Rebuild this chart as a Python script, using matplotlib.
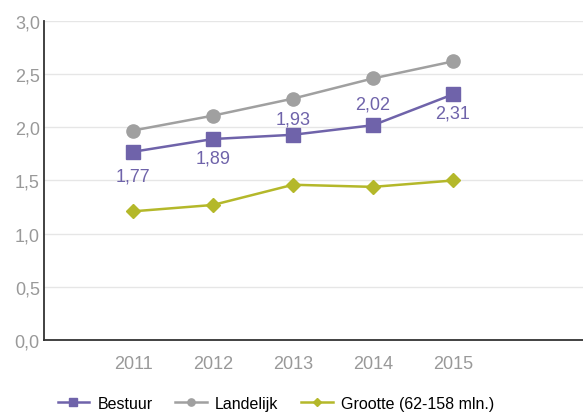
import matplotlib
matplotlib.use("Agg")
import matplotlib.pyplot as plt

years = [2011, 2012, 2013, 2014, 2015]
bestuur = [1.77, 1.89, 1.93, 2.02, 2.31]
landelijk = [1.97, 2.11, 2.27, 2.46, 2.62]
grootte = [1.21, 1.27, 1.46, 1.44, 1.50]
yticks = [0.0, 0.5, 1.0, 1.5, 2.0, 2.5, 3.0]

# label centre offsets in pixels (negative = below the point)
label_offsets_px = [-22, -17, 18, 23, -16.5]

plt.rcParams['font.family'] = ['Liberation Sans', 'DejaVu Sans']

purple = "#6f63aa"
gray = "#a0a0a0"
olive = "#b4b82a"

fig = plt.figure(figsize=(5.83, 4.14), dpi=100)
ax = fig.add_axes([0.0755, 0.1763, 0.9245, 0.7706])

ax.plot(years, bestuur, color=purple, lw=1.8, marker='s', ms=10, label="Bestuur", zorder=4)
ax.plot(years, landelijk, color=gray, lw=1.8, marker='o', ms=9.5, label="Landelijk", zorder=3)
ax.plot(years, grootte, color=olive, lw=1.8, marker='D', ms=7, label="Grootte (62-158 mln.)", zorder=3)

for x, v, off in zip(years, bestuur, label_offsets_px):
    ax.annotate(f"{v:.2f}".replace('.', ','), (x, v), xytext=(0, (off - 6.5) * 0.72),
                textcoords='offset points', ha='center', va='baseline', color=purple, fontsize=13)

ax.set_xlim(2011 - 89/80, 2015 + 130/80)
ax.set_ylim(0, 3.0)
ax.set_yticks(yticks)
ax.set_yticklabels([f"{t:.1f}".replace('.', ',') for t in yticks])
ax.set_xticks(years)
ax.set_xticklabels([str(y) for y in years])
ax.tick_params(axis='both', length=0, colors="#999999", labelsize=13)
ax.tick_params(axis='x', pad=11)
ax.tick_params(axis='y', pad=3)
ax.grid(axis='y', color="#e6e6e6", lw=1)
ax.set_axisbelow(True)
for s in ['top', 'right']:
    ax.spines[s].set_visible(False)
for s in ['left', 'bottom']:
    ax.spines[s].set_color("#333333")
    ax.spines[s].set_linewidth(1.3)

leg = fig.legend(loc='lower left', bbox_to_anchor=(0.074, -0.03), ncol=3, frameon=False,
                 fontsize=11.5, handlelength=2.0, columnspacing=1.4, handletextpad=0.5, markerscale=0.55)
fig.savefig("out.png", dpi=100)
